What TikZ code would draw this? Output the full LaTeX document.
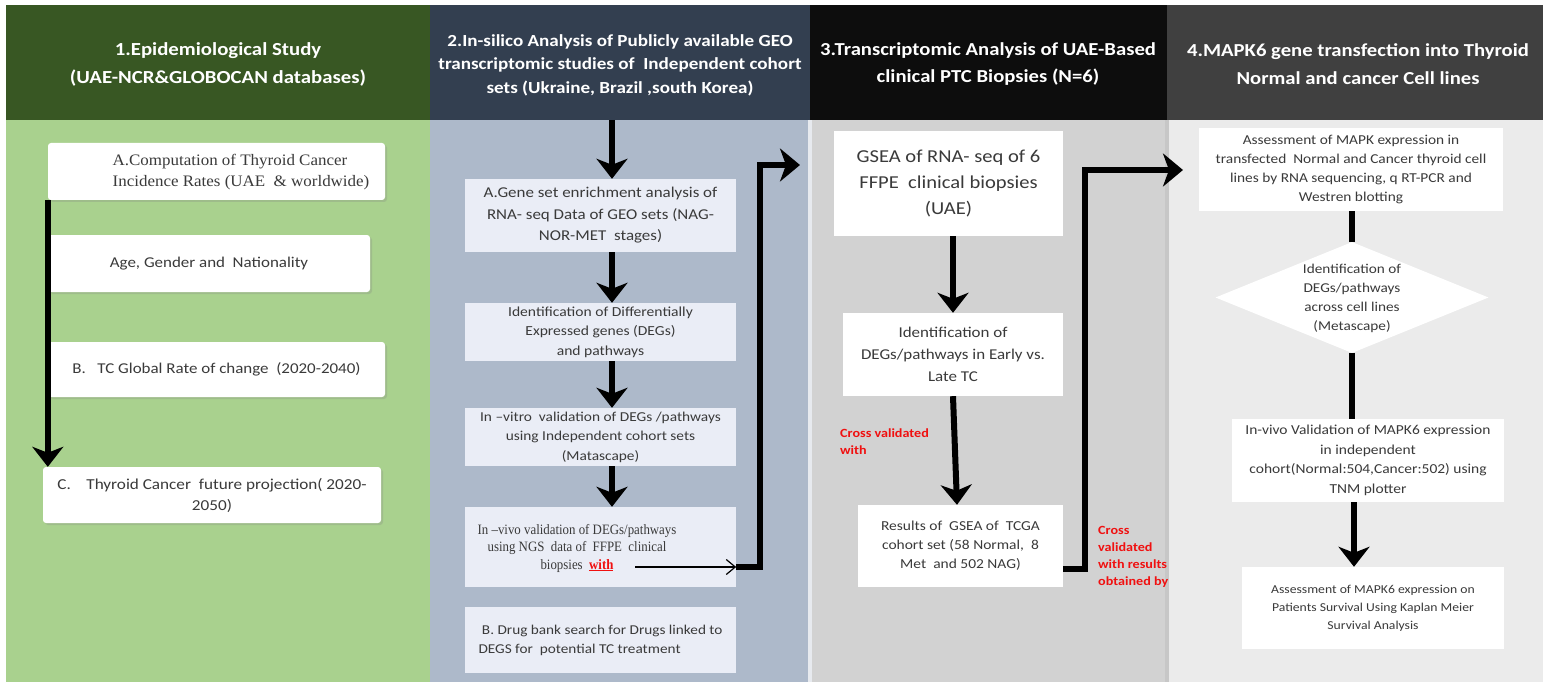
\documentclass[tikz,border=0pt]{standalone}
\usepackage{fontspec}
\setmainfont{Carlito}[FakeStretch=1.13]
\newfontfamily\tnr{Liberation Serif}[FakeStretch=1.06]
\newfontfamily\tnrc{Liberation Serif}[FakeStretch=0.9]
\usetikzlibrary{arrows.meta,shapes.geometric,shadows}
\definecolor{hA}{HTML}{385723}
\definecolor{bA}{HTML}{A9D18E}
\definecolor{hB}{HTML}{333F50}
\definecolor{bB}{HTML}{ADB9CA}
\definecolor{hC}{HTML}{0D0D0D}
\definecolor{bC}{HTML}{D2D2D2}
\definecolor{hD}{HTML}{404040}
\definecolor{bD}{HTML}{EBEBEB}
\definecolor{boxB}{HTML}{EAEDF6}
\definecolor{txt}{HTML}{3A3A3A}
\definecolor{redt}{HTML}{F01010}
\tikzset{
  headtxt/.style={text=white, align=center, inner sep=0pt},
  greenbox/.style={fill=white, rounded corners=3pt, inner sep=0pt, align=center, text=txt,
     drop shadow={opacity=0.25, shadow xshift=2pt, shadow yshift=-2pt}},
  bluebox/.style={fill=boxB, inner sep=0pt, align=center, text=txt},
  whitebox/.style={fill=white, inner sep=0pt, align=center, text=txt},
  bigarrow/.style={line width=6pt, -{Stealth[length=20pt,width=31pt,inset=6pt]}},
  bigline/.style={line width=6pt},
  elbow/.style={line width=6pt, line join=miter, -{Stealth[length=20pt,width=33pt,inset=6pt]}},
  thinarrow/.style={line width=1.2pt, -{Straight Barb[length=9pt,width=15pt]}},
  redtxt/.style={text=redt, font=\fontsize{12.5}{17}\selectfont\bfseries, align=left, inner sep=0pt}
}
\begin{document}
\begin{tikzpicture}[x=1pt,y=-1pt]
\useasboundingbox (0,0) rectangle (1543,682);
% column backgrounds
\fill[bA] (6,120) rectangle (430,682);
\fill[hA] (6,5) rectangle (430,120);
\fill[bB] (430,120) rectangle (810,682);
\fill[hB] (430,5) rectangle (810,120);
\fill[bC] (810,120) rectangle (1165,682);
\fill[hC] (810,5) rectangle (1167,120);
\fill[bD] (1165,120) rectangle (1543,682);
\fill[hD] (1167,5) rectangle (1543,120);
\fill[black!22] (1165,120) rectangle (1169,682);
\fill[white!70!bB] (808,120) rectangle (812,682);

% headers
\node[headtxt, font=\fontsize{18.4}{28}\selectfont\bfseries] (h1) at (218,64)
  {1.Epidemiological Study\\(UAE-NCR\&GLOBOCAN databases)};
\node[headtxt, font=\fontsize{16.9}{23.5}\selectfont\bfseries] (h2) at (620,65)
  {2.In-silico Analysis of Publicly available GEO\\transcriptomic studies of \ Independent cohort\\sets (Ukraine, Brazil ,south Korea)};
\node[headtxt, font=\fontsize{18.3}{27}\selectfont\bfseries] (h3) at (988,64)
  {3.Transcriptomic Analysis of UAE-Based\\clinical PTC Biopsies (N=6)};
\node[headtxt, font=\fontsize{18.3}{28}\selectfont\bfseries] (h4) at (1358,64)
  {4.MAPK6 gene transfection into Thyroid\\Normal and cancer Cell lines};

% column 1
\node[greenbox, minimum width=337, minimum height=57] (a1) at (216.5,171.5) {};
\node[align=left, inner sep=0pt, text=txt, font=\tnr\fontsize{16}{21}\selectfont] (a1t) at (241,172)
  {A.Computation of Thyroid Cancer\\Incidence Rates (UAE \ \& worldwide)};
\node[greenbox, minimum width=322, minimum height=57, font=\fontsize{15}{21}\selectfont] (a2) at (209,263.5)
  {Age, Gender and \ Nationality};
\node[greenbox, minimum width=337, minimum height=55, font=\fontsize{15}{21}\selectfont] (a3) at (216.5,369.5)
  {B.\ \ \ TC Global Rate of change \ (2020-2040)};
\node[greenbox, minimum width=338, minimum height=56, font=\fontsize{15.2}{21}\selectfont] (a4) at (212,495)
  {C.\ \ \ \ Thyroid Cancer \ future projection( 2020-\\2050)};
\draw[bigarrow] (a1.south west) -- (a1.south west |- a4.north);

% column 2
\coordinate (h2b) at (612,120);
\node[bluebox, minimum width=271, minimum height=73, font=\fontsize{15}{21.5}\selectfont] (g1) at (600.5,215.5)
  {A.Gene set enrichment analysis of\\RNA- seq Data of GEO sets (NAG-\\NOR-MET \ stages)};
\node[bluebox, minimum width=271, minimum height=58, font=\fontsize{13.8}{19.5}\selectfont] (g2) at (600.5,332)
  {Identification of Differentially\\Expressed genes (DEGs)\\and pathways};
\node[bluebox, minimum width=271, minimum height=58, font=\fontsize{13.6}{19.5}\selectfont] (g3) at (600.5,437)
  {In –vitro \ validation of DEGs /pathways\\using Independent cohort sets\\(Matascape)};
\node[bluebox, minimum width=271, minimum height=80] (g4) at (600.5,547) {};
\node[align=center, inner sep=0pt, text=txt, font=\tnrc\fontsize{14.3}{17.5}\selectfont] (g4t) at (577,548)
  {In –vivo validation of DEGs/pathways\\using NGS \ data of \ FFPE \ clinical\\biopsies \ \textcolor{redt}{\underline{\textbf{with}}}};
\node[bluebox, minimum width=271, minimum height=66, align=left, font=\fontsize{13.5}{19}\selectfont] (g5) at (600.5,640)
  {\ B. Drug bank search for Drugs linked to\\DEGS for \ potential TC treatment};
\draw[bigarrow] (h2b) -- (h2b |- g1.north);
\draw[bigarrow] ([xshift=11.5pt]g1.south) -- ([xshift=11.5pt]g2.north);
\draw[bigarrow] ([xshift=11.5pt]g2.south) -- ([xshift=11.5pt]g3.north);
\draw[bigarrow] ([xshift=11.5pt]g3.south) -- ([xshift=11.5pt]g4.north);
\coordinate (w1) at (635,567);
\coordinate (e2x) at (760,165);
\coordinate (e2tip) at (800,165);
\draw[thinarrow] (w1) -- (w1 -| g4.east);
\draw[elbow] (w1 -| g4.east) -| (e2x) -- (e2tip);

% column 3
\node[whitebox, minimum width=229, minimum height=105, font=\fontsize{18.2}{26}\selectfont] (t1) at (948.5,183.5)
  {GSEA of RNA- seq of 6\\FFPE \ clinical biopsies\\(UAE)};
\node[whitebox, minimum width=220, minimum height=83, font=\fontsize{15}{22}\selectfont] (t2) at (953,354.5)
  {Identification of\\DEGs/pathways in Early vs.\\Late TC};
\node[whitebox, minimum width=205, minimum height=82, font=\fontsize{13.7}{19}\selectfont] (t3) at (960.5,546)
  {Results of \ GSEA of \ TCGA\\cohort set (58 Normal, \ 8\\Met \ and 502 NAG)};
\draw[bigarrow] (t2.north |- t1.south) -- (t2.north);
\draw[bigarrow] (t2.south) -- ([xshift=-3.5pt]t3.north);
\node[redtxt, anchor=west] (r1) at (840,442) {Cross validated\\with};
\coordinate (f1) at (1063,569);
\coordinate (f2) at (1085,170);
\coordinate (f3) at (1183,170);
\draw[elbow] (f1) -| (f2) -- (f3);
\node[redtxt, anchor=west] (r2) at (1098,557) {Cross\\validated\\with results\\obtained by};

% column 4
\node[whitebox, minimum width=304, minimum height=83, font=\fontsize{13.6}{19}\selectfont] (m1) at (1351,169.5)
  {Assessment of MAPK expression in\\transfected \ Normal and Cancer thyroid cell\\lines by RNA sequencing, q RT-PCR and\\Westren blotting};
\node[diamond, fill=white, inner sep=0pt, minimum width=273, minimum height=111, aspect=2.46] (dia) at (1352,297.5) {};
\node[align=center, inner sep=0pt, text=txt, font=\fontsize{13.5}{19}\selectfont] (diat) at (1352,298)
  {Identification of\\DEGs/pathways\\across cell lines\\(Metascape)};
\node[whitebox, minimum width=272, minimum height=83, font=\fontsize{13.7}{19.5}\selectfont] (m2) at (1368,460.5)
  {In-vivo Validation of MAPK6 expression\\in independent\\cohort(Normal:504,Cancer:502) using\\TNM plotter};
\node[whitebox, minimum width=262, minimum height=82, font=\fontsize{12.1}{18}\selectfont] (m3) at (1373,608)
  {Assessment of MAPK6 expression on\\Patients Survival Using Kaplan Meier\\Survival Analysis};
\draw[bigline] (dia.north |- m1.south) -- (dia.north);
\draw[bigline] (dia.south) -- (dia.south |- m2.north);
\draw[bigarrow] ([xshift=2pt]dia.south |- m2.south) -- ([xshift=2pt]dia.south |- m3.north);
\end{tikzpicture}
\end{document}
